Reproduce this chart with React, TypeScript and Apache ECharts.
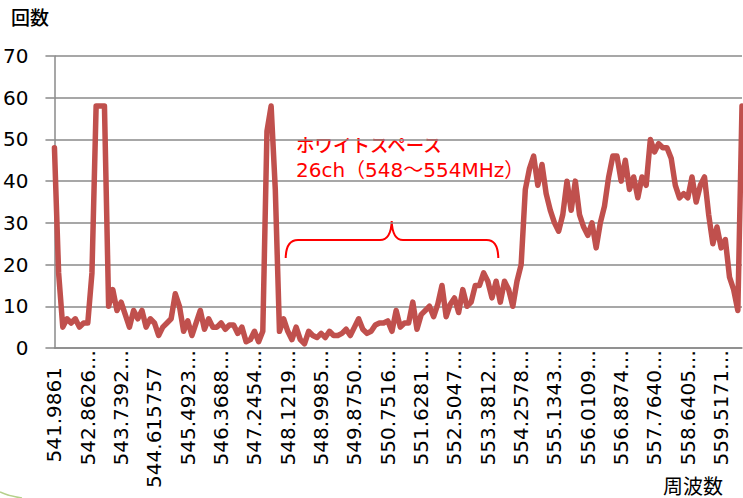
import React, { useEffect, useRef } from "react";
import * as echarts from "echarts";

// Frequency tick labels (every 8th sample), as displayed
const tickLabels: string[] = [
  "541.9861", "542.8626…", "543.7392…", "544.615757", "545.4923…", "546.3688…",
  "547.2454…", "548.1219…", "548.9985…", "549.8750…", "550.7516…", "551.6281…",
  "552.5047…", "553.3812…", "554.2578…", "555.1343…", "556.0109…", "556.8874…",
  "557.7640…", "558.6405…", "559.5171…",
];
const samplesPerTick = 8;
const lastIndex = 165;

// Count (回数) per frequency sample
const counts: number[] = [
  48, 18, 5, 7, 6, 7, 5, 6, 6, 18,
  58, 58, 58, 10, 14, 9, 11, 8, 5, 9,
  7, 9, 5, 7, 6, 3, 5, 6, 7, 13,
  10, 4, 6.5, 3, 6, 9, 4.5, 7, 5, 5,
  6, 4.5, 5.5, 5.5, 3.5, 5, 1.5, 2, 4, 1.5,
  4, 52, 58, 38, 4, 7, 4, 2, 5, 2,
  1, 4, 3, 2.5, 3.5, 2.5, 4, 3, 3, 3.5,
  4.5, 3, 5, 7, 4.5, 3.5, 4, 5.5, 6, 6,
  6.5, 4, 9, 5, 6, 6, 11, 4.5, 8, 9,
  10, 7.5, 10.5, 15, 7.5, 10.5, 12, 8.5, 14, 10,
  11, 15, 15, 18, 16, 12, 16, 11, 16, 14,
  10, 16, 20, 38, 43, 46, 39, 44, 37, 33,
  30, 28, 32, 40, 33, 40, 32, 29, 27, 30,
  24, 30, 34, 41, 46, 46, 40, 45, 38, 41,
  36, 41, 39, 50, 47, 49, 48, 48, 45.5, 39,
  36, 37, 36, 41, 35, 39, 41, 32, 25, 29,
  24, 26, 17, 14, 9, 58,
];

const yTicks = { min: 0, max: 70, interval: 10 };
const yName = "回数";
const xName = "周波数";
const noteLine1 = "ホワイトスペース";
const noteLine2 = "26ch（548～554MHz）";

const bracePath =
  "M285.7,258 Q286,240 298,240 L380,240 Q391,240 391.7,221 Q392.4,240 403,240 L486.7,240 Q498,240 498.3,258";

let registered = false;

export default function App() {
  const ref = useRef<HTMLDivElement>(null);
  useEffect(() => {
    if (!ref.current) return;
    if (!registered) {
      echarts.graphic.registerShape("brace", echarts.graphic.extendPath(bracePath, {}) as any);
      registered = true;
    }
    const chart = echarts.init(ref.current, null, { renderer: "svg" });
    const gray = "#8a8a8a";
    chart.setOption({
      animation: false,
      backgroundColor: "#ffffff",
      grid: { left: 54, top: 56, width: 688, height: 292, containLabel: false },
      xAxis: {
        type: "value",
        min: 0,
        max: lastIndex,
        interval: samplesPerTick,
        axisLine: { show: true, onZero: true, lineStyle: { color: gray, width: 1.5 } },
        axisTick: { show: false },
        splitLine: { show: false },
        axisLabel: {
          rotate: 90,
          margin: 2,
          fontSize: 20,
          color: "#000000",
          fontFamily: "DejaVu Sans",
          showMaxLabel: false,
          formatter: (v: number) => {
            const idx = v / samplesPerTick;
            const t = Number.isInteger(idx) ? tickLabels[idx] : undefined;
            if (!t) return "";
            return t.endsWith("…") ? t : `{n|${t}}`;
          },
          rich: {
            n: { fontSize: 20, fontFamily: "DejaVu Sans", color: "#000000", padding: [0, 17, 0, 0] },
          },
        },
      },
      yAxis: {
        type: "value",
        min: yTicks.min,
        max: yTicks.max,
        interval: yTicks.interval,
        axisLine: { show: true, lineStyle: { color: gray, width: 1.5 } },
        axisTick: { show: true, inside: false, length: 9, lineStyle: { color: gray, width: 1.5 } },
        splitLine: { show: true, lineStyle: { color: gray, width: 1.5 } },
        axisLabel: {
          margin: 26,
          fontSize: 20,
          color: "#000000",
          fontFamily: "DejaVu Sans",
        },
      },
      series: [
        {
          type: "line",
          data: counts.map((c, i) => [i, c]),
          showSymbol: false,
          symbol: "none",
          clip: false,
          lineStyle: { color: "#C0504D", width: 5.5, cap: "round", join: "round" },
          itemStyle: { color: "#C0504D" },
        },
      ],
      graphic: [
        {
          type: "text",
          left: 11,
          top: 7,
          style: { text: yName, fontSize: 19, fontFamily: "Noto Sans CJK JP", fontWeight: 500, fill: "#000000" },
        },
        {
          type: "text",
          left: 663,
          top: 475,
          style: { text: xName, fontSize: 20, fontFamily: "Noto Sans CJK JP", fill: "#000000" },
        },
        {
          type: "text",
          x: 296,
          y: 143.5,
          style: {
            text: noteLine1,
            fontSize: 18.5,
            fontFamily: "Noto Sans CJK JP",
            fontWeight: 500,
            fill: "#ff0000",
            verticalAlign: "middle",
            align: "left",
          },
        },
        {
          type: "text",
          x: 296,
          y: 170,
          style: {
            text: noteLine2,
            fontSize: 20,
            fontFamily: "DejaVu Sans, Noto Sans CJK JP",
            fill: "#ff0000",
            verticalAlign: "middle",
            align: "left",
          },
        },
        {
          type: "brace",
          x: 0,
          y: 0,
          style: { stroke: "#ff0000", fill: "none", lineWidth: 2 },
        },
        {
          type: "bezierCurve",
          shape: { x1: 0, y1: 492, x2: 22, y2: 498, cpx1: 8, cpy1: 496 },
          style: { stroke: "#b5d08a", fill: "none", lineWidth: 1.5 },
        },
      ],
    });
    return () => chart.dispose();
  }, []);
  return (
    <div
      ref={ref}
      style={{ position: "fixed", left: 0, top: 0, width: 743, height: 498 }}
    />
  );
}
